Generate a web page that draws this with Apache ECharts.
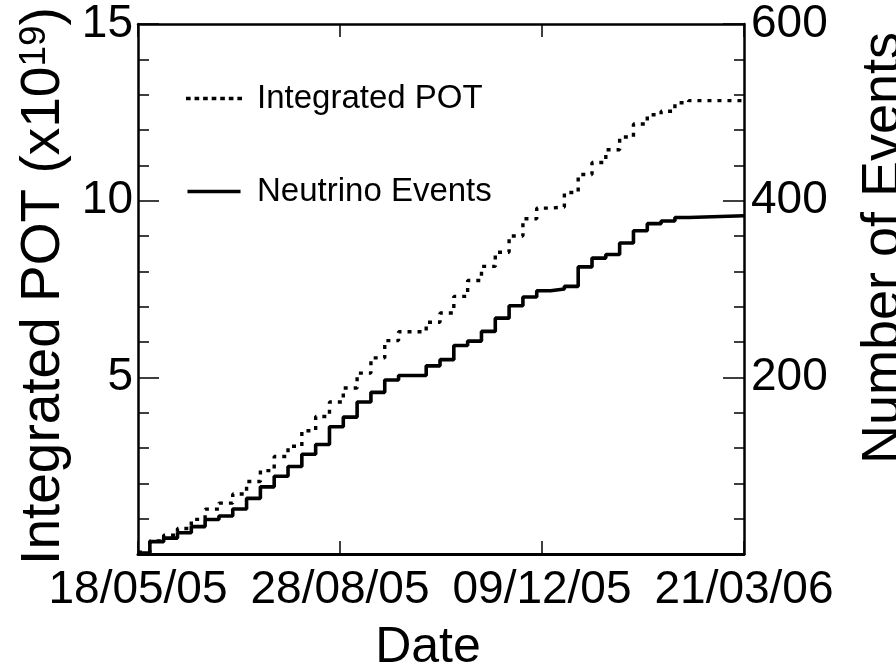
<!DOCTYPE html>
<html>
<head>
<meta charset="utf-8">
<script src="https://cdn.jsdelivr.net/npm/echarts@6/dist/echarts.min.js"></script>
<style>
html,body{margin:0;padding:0;background:#fff;}
#chart{width:896px;height:669px;}
</style>
</head>
<body>
<div id="chart"></div>
<script>
// Weekly bin start dates (read from the step edges)
var binStarts = ['2005-05-18','2005-05-24','2005-05-31','2005-06-07','2005-06-14','2005-06-21','2005-06-28',
  '2005-07-05','2005-07-12','2005-07-19','2005-07-26','2005-08-02','2005-08-09','2005-08-16','2005-08-23',
  '2005-08-30','2005-09-06','2005-09-13','2005-09-20','2005-09-27','2005-10-04','2005-10-11','2005-10-18',
  '2005-10-25','2005-11-01','2005-11-08','2005-11-15','2005-11-22','2005-11-29','2005-12-06','2005-12-13',
  '2005-12-20','2005-12-27','2006-01-03','2006-01-10','2006-01-17','2006-01-24','2006-01-31','2006-02-07',
  '2006-02-14','2006-02-21'];
var axisStart = '2005-05-18';
var axisEnd = '2006-03-21';
// Cumulative integrated POT (x10^19), left axis
var potValues = [0.05,0.37,0.53,0.72,0.98,1.27,1.44,1.70,2.05,2.36,2.76,3.05,3.49,3.89,4.30,4.70,5.12,5.55,
  6.04,6.29,6.29,6.56,6.82,7.29,7.74,8.14,8.54,9.00,9.49,9.79,9.82,10.23,10.74,11.08,11.44,11.80,12.17,12.43,
  12.53,12.77,12.83];
// Cumulative neutrino events, right axis
var eventValues = [1,14,18,24,31,39,43,51,63,76,88,99,113,124,144,155,172,183,197,202,202,213,220,236,241,252,
  267,281,291,298,300,303,325,335,339,352,366,374,377,381,383];
var xTickLabels = ['18/05/05','28/08/05','09/12/05','21/03/06'];
var seriesNames = ['Integrated POT','Neutrino Events'];

function hoursFrom(d){ return Math.round((Date.parse(d+'T00:00:00Z') - Date.parse(axisStart+'T00:00:00Z'))/3600000); }
var xMax = hoursFrom(axisEnd);
var xInterval = xMax/3;
function build(vals){
  var out = binStarts.map(function(d,i){ return [hoursFrom(d), vals[i]]; });
  out.push([xMax, vals[vals.length-1]]);
  return out;
}

var FONT = 'Liberation Sans, Arial, Helvetica, sans-serif';
var dottedIcon = 'path://M0,0h4.6v3.4h-4.6zM8.5,0h4.6v3.4h-4.6zM17,0h4.6v3.4h-4.6zM25.5,0h4.6v3.4h-4.6zM34,0h4.6v3.4h-4.6zM42.5,0h4.6v3.4h-4.6zM51,0h4.6v3.4h-4.6z';
var solidIcon = 'path://M0,0h56v3.8h-56z';
var chart = echarts.init(document.getElementById('chart'), null, {renderer:'canvas'});
var frame = {color:'#000', width:2.5};
chart.setOption({
  animation:false,
  backgroundColor:'#fff',
  grid:{left:138, right:152, top:24, bottom:115, containLabel:false, outerBoundsMode:'none'},
  legend:{
    orient:'vertical', left:186, top:82, itemGap:60, padding:0,
    itemWidth:56, itemHeight:3.6,
    textStyle:{fontFamily:FONT, fontSize:33, color:'#000', padding:[0,0,0,10]},
    data:[{name:seriesNames[0], icon:dottedIcon, itemStyle:{color:'#000'}},
          {name:seriesNames[1], icon:solidIcon, itemStyle:{color:'#000'}}]
  },
  xAxis:[{
    type:'value', min:0, max:xMax, interval:xInterval, position:'bottom',
    axisLine:{show:true, onZero:false, lineStyle:{color:'#000', width:3}},
    axisTick:{show:true, inside:true, length:13, lineStyle:{color:'#000', width:1.5}},
    splitLine:{show:false},
    axisLabel:{show:true, showMinLabel:true, showMaxLabel:true, margin:13, color:'#000', fontFamily:FONT, fontSize:46,
      formatter:function(v){ return xTickLabels[Math.round(v/xInterval)] || ''; }},
    name:'Date', nameLocation:'middle', nameGap:69,
    nameTextStyle:{fontFamily:FONT, fontSize:50, color:'#000', padding:[0,26,0,0]}
  },{
    type:'value', min:0, max:xMax, interval:xInterval, position:'top',
    axisLine:{show:true, onZero:false, lineStyle:frame},
    axisTick:{show:true, inside:true, length:13, lineStyle:{color:'#000', width:1.5}},
    axisLabel:{show:false}, splitLine:{show:false}
  }],
  yAxis:[{
    type:'value', min:0, max:15, interval:5, position:'left',
    axisLine:{show:true, onZero:false, lineStyle:frame},
    axisTick:{show:true, inside:true, length:21, lineStyle:{color:'#000', width:1.5}},
    minorTick:{show:true, splitNumber:5, length:11, lineStyle:{color:'#000', width:1.5}},
    splitLine:{show:false},
    axisLabel:{margin:5, color:'#000', fontFamily:FONT, fontSize:46,
      formatter:function(v){ return v===0 ? '' : String(v); }},
    name:'{a|Integrated POT (x10}{s|19}{a|)}', nameLocation:'middle', nameGap:60,
    nameTextStyle:{padding:[0,0,0,6], rich:{
      a:{fontFamily:FONT, fontSize:55, color:'#000'},
      s:{fontFamily:FONT, fontSize:37, color:'#000', verticalAlign:'top'}
    }}
  },{
    type:'value', min:0, max:600, interval:200, position:'right',
    axisLine:{show:true, onZero:false, lineStyle:frame},
    axisTick:{show:true, inside:true, length:21, lineStyle:{color:'#000', width:1.5}},
    minorTick:{show:true, splitNumber:5, length:10, lineStyle:{color:'#000', width:1.5}},
    splitLine:{show:false},
    axisLabel:{margin:7, color:'#000', fontFamily:FONT, fontSize:46,
      formatter:function(v){ return v===0 ? '' : String(v); }},
    name:'Number of Events', nameLocation:'middle', nameGap:113, nameRotate:90,
    nameTextStyle:{fontFamily:FONT, fontSize:54, color:'#000', padding:[0,0,0,82]}
  }],
  series:[{
    name:seriesNames[0], type:'line', step:'end', xAxisIndex:0, yAxisIndex:0,
    symbol:'none', data:build(potValues),
    lineStyle:{color:'#000', width:3.4, type:[4,6]},
    itemStyle:{color:'#000'}
  },{
    name:seriesNames[1], type:'line', step:'end', xAxisIndex:0, yAxisIndex:1,
    symbol:'none', data:build(eventValues),
    lineStyle:{color:'#000', width:3.6, type:'solid'},
    itemStyle:{color:'#000'}
  }]
});
</script>
</body>
</html>
